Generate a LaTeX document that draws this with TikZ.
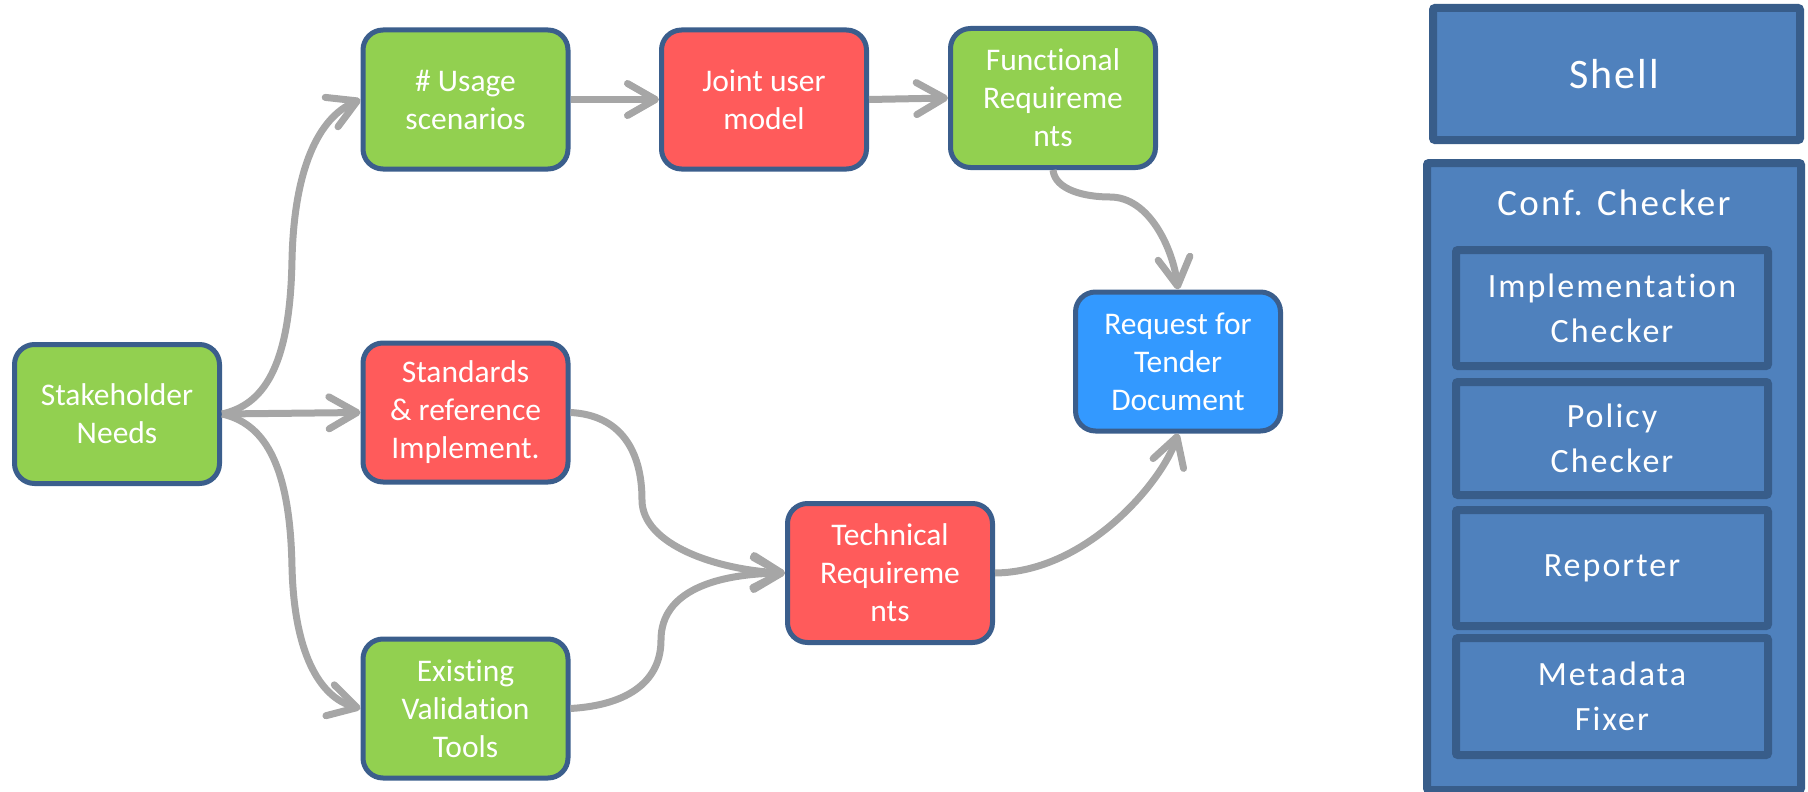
\documentclass[tikz,border=0pt]{standalone}
\usepackage{fontspec}
\setmainfont{Carlito}[Ligatures=NoCommon]
\usetikzlibrary{arrows.meta}
\definecolor{bgreen}{HTML}{92D050}
\definecolor{bred}{HTML}{FF5B5B}
\definecolor{bblue}{HTML}{3399FF}
\definecolor{bborder}{HTML}{3B5E8C}
\definecolor{agray}{HTML}{A6A6A6}
\definecolor{pfill}{HTML}{4F81BD}
\definecolor{pborder}{HTML}{385D8A}
\begin{document}
\begin{tikzpicture}[x=1pt,y=-1pt,
  box/.style={draw=bborder, line width=5pt, rounded corners=20pt, minimum width=205pt, minimum height=139pt, text=white, align=center, inner sep=0pt, font=\fontsize{31.5}{38}\selectfont},
  gbox/.style={box, fill=bgreen},
  rbox/.style={box, fill=bred},
  bbox/.style={box, fill=bblue},
  conn/.style={draw=agray, line width=7pt, -{Straight Barb[length=28pt,width=32pt,round]}},
  panel/.style={draw=pborder, fill=pfill, line width=8pt, rounded corners=2pt, inner sep=0pt},
  ptext/.style={text=white, align=center, inner sep=0pt}
]
\useasboundingbox (0,0) rectangle (1808,792);
% left diagram
\node[gbox] (sh) at (117,414) {Stakeholder\\Needs};
\node[gbox] (us) at (465.5,99.5) {\# Usage\\scenarios};
\node[rbox] (jm) at (764,99.5) {Joint user\\model};
\node[gbox] (fr) at (1053,98) {Functional\\Requireme\\nts};
\node[bbox] (rq) at (1178,361.5) {Request for\\Tender\\Document};
\node[rbox] (st) at (465.5,412.5) {Standards\\\& reference\\Implement.};
\node[rbox] (tr) at (890,573) {Technical\\Requireme\\nts};
\node[gbox] (ex) at (465.5,708.5) {Existing\\Validation\\Tools};
% connectors
\draw[conn] (sh.east) .. controls (262,405) and (290,370) .. (292,260) .. controls (294,170) and (318,118) .. (us.west);
\draw[conn] (sh.east) -- (st.west);
\draw[conn] (sh.east) .. controls (262,423) and (290,460) .. (292,567) .. controls (294,650) and (318,697) .. (ex.west);
\draw[conn] (us.east) -- (jm.west);
\draw[conn] (jm.east) -- (fr.west);
\draw[conn] (fr.south) .. controls (1055,190) and (1085,197) .. (1110,197) .. controls (1150,197) and (1173,250) .. (rq.north);
\draw[conn] (st.east) .. controls (620,415) and (642,450) .. (642,500) .. controls (642,545) and (718,570) .. (tr.west);
\draw[conn] (ex.east) .. controls (630,705) and (661,680) .. (661,640) .. controls (661,590) and (718,574) .. (tr.west);
\draw[conn] (tr.east) .. controls (1088,572) and (1163,480) .. (rq.south);
% right panel
\node[panel, minimum width=367pt, minimum height=132pt] (shell) at (1616.5,74) {};
\node[ptext, font=\fontsize{42}{50}\selectfont\addfontfeatures{LetterSpace=5}] (shelltext) at (1614,74) {Shell};
\node[panel, minimum width=374pt, minimum height=627pt] (conf) at (1614,476.5) {};
\node[ptext, font=\fontsize{37}{45}\selectfont\addfontfeatures{LetterSpace=6}] (conftitle) at (1614,203) {Conf. Checker};
\tikzset{inner/.style={panel, minimum width=312pt, text=white, align=center, font=\fontsize{34}{45}\selectfont\addfontfeatures{LetterSpace=6}}}
\node[inner, minimum height=116pt] (impl) at (1612,308) {Implementation\\Checker};
\node[inner, minimum height=113pt] (pol) at (1612,438.5) {Policy\\Checker};
\node[inner, minimum height=116pt] (rep) at (1612,568) {Reporter};
\node[inner, minimum height=117pt] (meta) at (1612,696.5) {Metadata\\Fixer};
\end{tikzpicture}
\end{document}
